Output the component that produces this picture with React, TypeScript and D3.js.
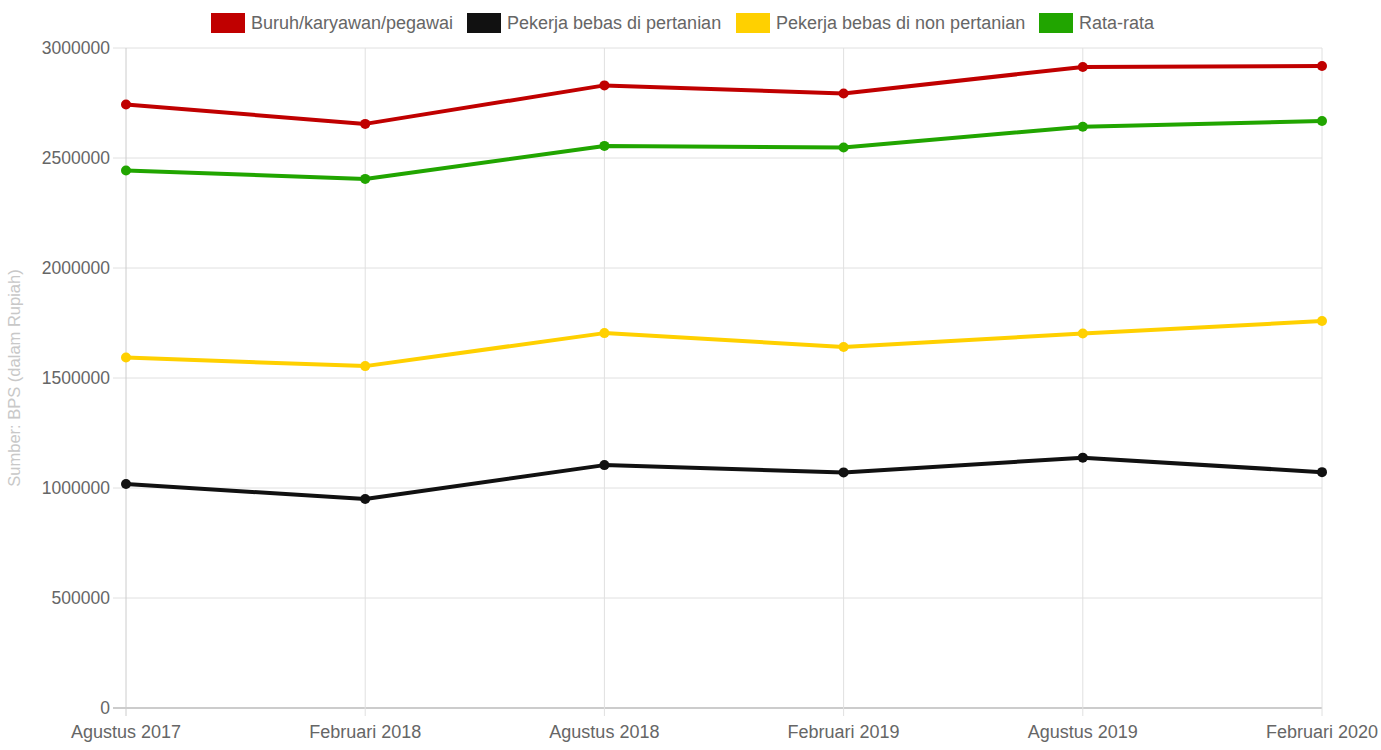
import React from "react";
import * as d3 from "d3";

const categories = ["Agustus 2017", "Februari 2018", "Agustus 2018", "Februari 2019", "Agustus 2019", "Februari 2020"];
const buruh = [2743000, 2655000, 2830000, 2793000, 2914000, 2918000];
const pertanian = [1018000, 950000, 1104000, 1071000, 1138000, 1072000];
const nonPertanian = [1593000, 1554000, 1704000, 1641000, 1702000, 1759000];
const rataRata = [2443000, 2405000, 2555000, 2548000, 2642000, 2668000];
const yTicks = [0, 500000, 1000000, 1500000, 2000000, 2500000, 3000000];

const series = [
  { name: "Buruh/karyawan/pegawai", values: buruh, color: "#c00000" },
  { name: "Pekerja bebas di pertanian", values: pertanian, color: "#111111" },
  { name: "Pekerja bebas di non pertanian", values: nonPertanian, color: "#ffd000" },
  { name: "Rata-rata", values: rataRata, color: "#21a500" },
];

const W = 1381, H = 750;
const left = 126, right = 1322, top = 48, bottom = 708;
const font = "'Liberation Sans', Arial, sans-serif";

export default function App() {
  const x = d3.scalePoint<string>().domain(categories).range([left, right]);
  const y = d3.scaleLinear().domain([0, 3000000]).range([bottom, top]);
  const line = d3.line<number>().x((_, i) => x(categories[i])!).y((v) => y(v));
  const legendX = [210, 466, 735, 1038];

  return (
    <svg width={W} height={H} style={{ position: "absolute", left: 0, top: 0, fontFamily: font }}>
      {yTicks.map((t) => (
        <g key={t}>
          <line x1={left - 13} x2={right} y1={y(t)} y2={y(t)} stroke={t === 0 ? "#999" : "#e0e0e0"} strokeWidth={1} />
          <text x={left - 16} y={y(t)} dy="0.35em" textAnchor="end" fontSize={17.5} fill="#666">{t}</text>
        </g>
      ))}
      {categories.map((c, i) => (
        <g key={c}>
          <line x1={x(c)} x2={x(c)} y1={top} y2={bottom + 8} stroke={i === 0 ? "#ccc" : "#e0e0e0"} strokeWidth={1} />
          <text x={x(c)} y={bottom + 30} textAnchor="middle" fontSize={18} fill="#666">{c}</text>
        </g>
      ))}
      <text transform={`translate(20, ${(top + bottom) / 2}) rotate(-90)`} textAnchor="middle" fontSize={16.5} fill="#c8c8c8">Sumber: BPS (dalam Rupiah)</text>
      {series.map((s) => (
        <g key={s.name}>
          <path d={line(s.values)!} fill="none" stroke={s.color} strokeWidth={4} strokeLinejoin="round" />
          {s.values.map((v, i) => (
            <circle key={i} cx={x(categories[i])} cy={y(v)} r={5} fill={s.color} />
          ))}
        </g>
      ))}
      {series.map((s, i) => (
        <g key={s.name} transform={`translate(${legendX[i]}, 12)`}>
          <rect x={0.5} y={0.5} width={35} height={21} fill={s.color} stroke="#fff" />
          <text x={41} y={11} dy="0.35em" fontSize={18} fill="#666">{s.name}</text>
        </g>
      ))}
    </svg>
  );
}
